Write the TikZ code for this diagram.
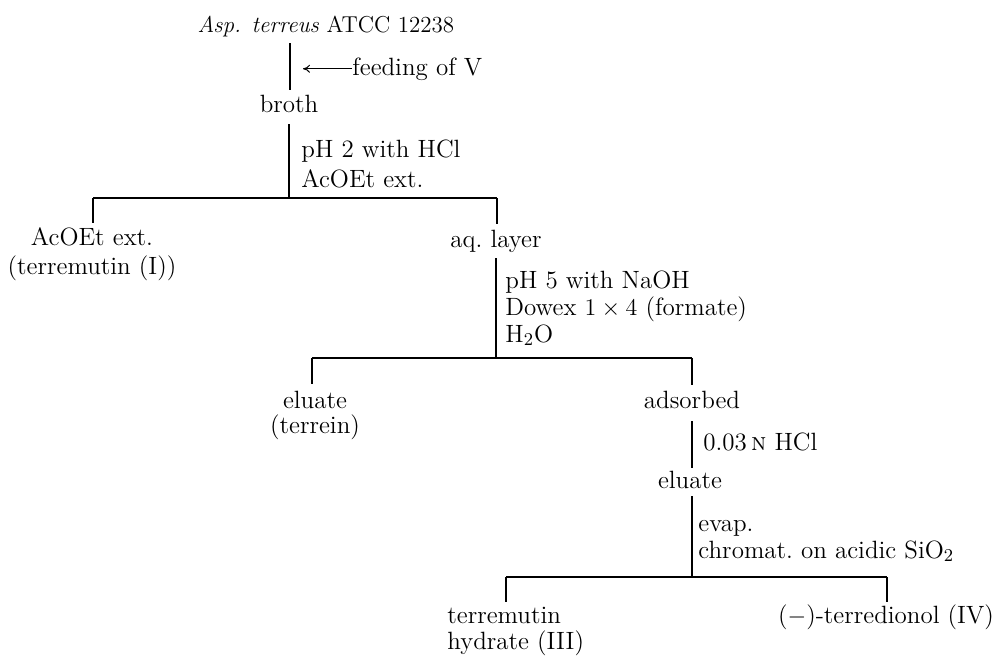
\documentclass[tikz,border=0pt]{standalone}
\usetikzlibrary{arrows.meta}
% stacked label: #1 line spacing, #2 column alignment, #3 lines
\newcommand\stk[3]{{\fontsize{12.5}{#1}\selectfont\begin{tabular}[t]{@{}#2@{}}#3\end{tabular}}}
\begin{document}
\begin{tikzpicture}[x=0.5pt,y=-0.5pt,
  lbl/.style={inner sep=0pt, font=\fontsize{12.5}{15}\selectfont},
  ttl/.style={inner sep=0pt, font=\fontsize{11.5}{14}\selectfont},
  stem/.style={line width=0.8pt},
  bar/.style={line width=0.6pt},
  feedarrow/.style={line width=0.5pt,-{To[length=3.5pt,width=4pt]}}]
\useasboundingbox (0,0) rectangle (1002,655);

% culture and feeding
\node[ttl,anchor=base] (src) at (326,32) {\textit{Asp. terreus} ATCC 12238};
\node[lbl,anchor=base west] (feed) at (352,75) {feeding of V};
\node[lbl,anchor=base] (broth) at (289,112) {broth};
\coordinate (s1a) at (290,43);
\coordinate (s1b) at (290,90);
\draw[stem] (s1a) -- (s1b);
\coordinate (tip) at (303,68);
\draw[feedarrow] (feed.west) -- (tip |- feed.west);

% first extraction
\coordinate (s2a) at (289,124);
\coordinate (j1) at (289,198);
\draw[stem] (s2a) -- (j1);
\node[lbl,anchor=base west] (c1) at (301,157) {\stk{15pt}{l}{pH 2 with HCl\\AcOEt ext.}};
\coordinate (j1l) at (93,198);
\coordinate (j1r) at (497,198);
\coordinate (d1l) at (93,223);
\coordinate (d1r) at (497,224);
\draw[bar] (j1l) -- (j1r);
\draw[stem] (j1l) -- (d1l);
\draw[stem] (j1r) -- (d1r);
\node[lbl,anchor=base] (ext) at (92,245) {\stk{14.5pt}{c}{AcOEt ext.\\(terremutin (I))}};
\node[lbl,anchor=base] (aq) at (496,247) {aq.\ layer};

% ion exchange
\coordinate (s3a) at (496,258);
\coordinate (j2) at (496,358);
\draw[stem] (s3a) -- (j2);
\node[lbl,anchor=base west] (c2) at (505,288) {\stk{13.5pt}{l}{pH 5 with NaOH\\Dowex $1\times4$ (formate)\\H$_2$O}};
\coordinate (j2l) at (312,358);
\coordinate (j2r) at (692,358);
\coordinate (d2l) at (312,384);
\coordinate (d2r) at (692,385);
\draw[bar] (j2l) -- (j2r);
\draw[stem] (j2l) -- (d2l);
\draw[stem] (j2r) -- (d2r);
\node[lbl,anchor=base] (el1) at (315,408) {\stk{12pt}{c}{eluate\\(terrein)}};
\node[lbl,anchor=base] (ads) at (692,408) {adsorbed};

% elution
\coordinate (s4a) at (692,421);
\coordinate (s4b) at (692,468);
\draw[stem] (s4a) -- (s4b);
\node[lbl,anchor=base west] (c3) at (703,450) {0.03\,{\scshape n} HCl};
\node[lbl,anchor=base] (el2) at (690,488) {eluate};

% chromatography
\coordinate (s5a) at (692,496);
\coordinate (j3) at (692,577);
\draw[stem] (s5a) -- (j3);
\node[lbl,anchor=base west] (c4) at (698,531) {\stk{13.5pt}{l}{evap.\\chromat.\ on acidic SiO$_2$}};
\coordinate (j3l) at (506,577);
\coordinate (j3r) at (887,577);
\coordinate (d3l) at (506,602);
\coordinate (d3r) at (887,602);
\draw[bar] (j3l) -- (j3r);
\draw[stem] (j3l) -- (d3l);
\draw[stem] (j3r) -- (d3r);
\node[lbl,anchor=base west] (hyd) at (447,623) {\stk{13pt}{l}{terremutin\\hydrate (III)}};
\node[lbl,anchor=base] (tdn) at (886,623) {($-$)-terredionol (IV)};
\end{tikzpicture}
\end{document}
